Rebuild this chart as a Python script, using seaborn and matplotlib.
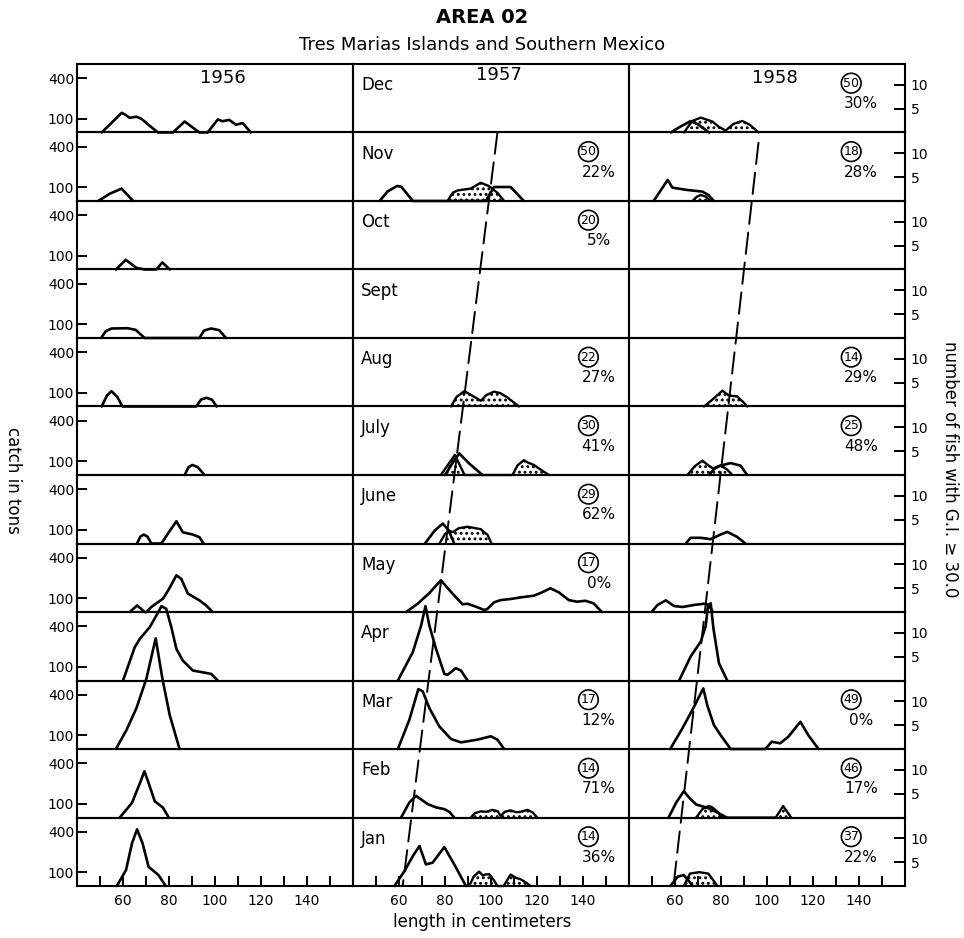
import matplotlib
matplotlib.use("Agg")
import matplotlib.pyplot as plt
import seaborn as sns
from matplotlib.patches import ConnectionPatch
from matplotlib.transforms import blended_transform_factory

# rows top to bottom, columns left to right
months = ["Dec", "Nov", "Oct", "Sept", "Aug", "July", "June", "May", "Apr", "Mar", "Feb", "Jan"]
years = ["1956", "1957", "1958"]

# catch in tons by length (cm)
dec56 = [(50.7, 0), (54.3, 59), (59.4, 145), (60.8, 133), (62.9, 108), (65.8, 116), (68, 101), (70.9, 59), (75.2, 0),
         (81.7, 0), (86.8, 81), (93.2, 0), (96.8, 0), (101.2, 96), (103.3, 83), (106.2, 93), (109.1, 57), (112, 69), (115.6, 0)]
nov56 = [(49.2, 0), (54.3, 54), (59.4, 91), (64.4, 0)]
oct56 = [(56.9, 0), (61.2, 71), (65.8, 12), (69.4, 0), (74.5, 0), (77.1, 52), (80.3, 0)]
sep56 = [(50.5, 0), (52.5, 50), (55, 70), (62, 72), (65.5, 60), (69.4, 0), (93.2, 0), (95.2, 55), (98.3, 70), (101.8, 58), (104.8, 0)]
aug56 = [(50.7, 0), (53, 80), (55, 113), (57.5, 70), (59.8, 0), (91.8, 0), (94, 52), (96.4, 64), (98.7, 50), (100.7, 0)]
jul56 = [(86.8, 0), (88.5, 58), (90.1, 74), (92.5, 58), (95.4, 0)]
jun56 = [(66.1, 0), (67.5, 50), (69, 66), (70.7, 50), (72.3, 0), (76.7, 0), (80, 85), (83.2, 164), (86, 83), (90.3, 66), (93.2, 47), (95, 0)]
may56 = [(63, 0), (66.1, 49), (69.4, 0), (70.2, 0), (72.3, 37), (77.4, 99), (80, 170), (83.2, 270), (85.3, 245),
         (88.2, 136), (93.2, 86), (96.1, 49), (99, 0)]
apr56 = [(60, 0), (65.1, 246), (67.3, 307), (71.6, 393), (74.5, 479), (76.7, 548), (78.8, 528), (81, 393), (83.2, 233),
         (86, 147), (90.3, 74), (98.3, 49), (101.2, 0)]
mar56 = [(56.9, 0), (61.5, 140), (65.8, 300), (70.2, 521), (74.2, 816), (77.1, 521), (80.3, 250), (84.6, 0)]
feb56 = [(58.6, 0), (63.9, 108), (67.4, 256), (69.3, 341), (71.1, 256), (73.8, 120), (77.3, 74), (79.9, 0)]
jan56 = [(57.3, 0), (61.3, 118), (63.9, 315), (66.1, 418), (68.5, 315), (71.1, 142), (75.4, 81), (78.6, 0)]

nov57 = [(51.6, 0), (55, 70), (59.2, 111), (61, 105), (66, 0), (97.7, 0), (101.3, 103), (108.5, 103), (114.3, 0)]
jul57 = [(80, 0), (83.5, 95), (86.2, 159), (90.5, 85), (96.3, 0)]
jun57 = [(71.3, 0), (75.5, 95), (79, 147), (81.5, 100), (84, 0)]
may57 = [(63.1, 0), (68.1, 61), (73.2, 140), (78.2, 234), (83.3, 135), (87.6, 57), (89.8, 61), (94.1, 35), (97, 15),
         (98.4, 22), (101.3, 71), (104.2, 88), (108.5, 96), (112.9, 108), (118.6, 120), (122.2, 145), (125.8, 175),
         (129.5, 145), (133.8, 88), (137.4, 76), (141, 83), (144.6, 64), (148.2, 0)]
apr57 = [(59.5, 0), (66, 209), (69.6, 405), (71.5, 548), (73.2, 405), (76.1, 233), (79.7, 49), (81.1, 42), (84.7, 91),
         (86.9, 74), (89.8, 0)]
mar57 = [(59.5, 0), (64.5, 216), (68.4, 442), (70.3, 425), (73.2, 302), (77.5, 167), (82.6, 74), (86.9, 49), (94.1, 69),
         (99.9, 94), (102.8, 69), (105.7, 0)]
feb57 = [(60.9, 0), (64.5, 111), (67.4, 160), (72.5, 99), (76, 75), (79.7, 62), (82, 40), (84, 0)]
jan57 = [(58, 0), (62.4, 111), (66, 221), (68.9, 295), (71.7, 160), (74.6, 172), (79.7, 287), (84, 160), (89.1, 0)]

dec58 = [(58.2, 0), (62, 40), (66.8, 84), (70, 60), (74.8, 0)]
nov58 = [(50.7, 0), (56.8, 155), (58.9, 98), (65.4, 81), (71.9, 69), (74.5, 45), (76.9, 0)]
jul58 = [(74.8, 0), (77, 45), (79.8, 69), (84.2, 88), (88.5, 69), (91.4, 0)]
jun58 = [(64.7, 0), (66.8, 42), (71.2, 42), (75.5, 32), (79.8, 66), (82.7, 86), (87, 49), (90.6, 0)]
may58 = [(49.8, 0), (52.4, 52), (56, 86), (59.6, 44), (63.2, 37), (68.3, 52), (72.6, 61), (74.5, 55), (76.5, 0)]
apr58 = [(61.8, 0), (66.8, 177), (71.2, 287), (73.3, 398), (74.3, 545), (75.5, 570), (76.7, 385), (79.1, 128), (82.7, 0)]
mar58 = [(57.9, 0), (63.2, 152), (68.3, 312), (72.3, 447), (74, 324), (76.9, 177), (79.8, 103), (84.2, 0),
         (99.3, 0), (102.1, 54), (105.7, 42), (109.3, 91), (114.5, 201), (118, 101), (122.4, 0)]
feb58 = [(57.2, 0), (60.5, 110), (63.8, 194), (66.5, 140), (69.2, 96), (74.5, 69), (78, 40), (82.5, 0)]
jan58 = [(58, 0), (61.2, 69), (63.8, 81), (67.8, 0)]

# number of fish with G.I. >= 30.0 (stippled)
nov57_gi = [(81.1, 0), (83.3, 1.7), (85.5, 2.2), (91.2, 2.6), (95.5, 3.8), (99.2, 3.1), (102.8, 1.7), (105.7, 0)]
aug57_gi = [(82.6, 0), (85, 2.0), (88.4, 3.2), (91, 2.5), (95.6, 1.2), (98, 2.4), (101.3, 3.1), (104, 2.8),
            (107.1, 1.9), (110, 0.8), (112.2, 0)]
jul57_gi = [(78.2, 0), (84.3, 4.2), (88.5, 0), (109.3, 0), (111.5, 2.0), (114.3, 3.1), (116, 2.6), (118.6, 2.1),
            (122, 1.0), (125.2, 0)]
jun57_gi = [(77.6, 0), (80, 2.0), (81.9, 2.6), (83.5, 2.4), (86, 3.2), (89.8, 3.5), (95.5, 3.0), (98.5, 1.8), (100.2, 0)]
feb57_gi = [(91.2, 0), (93, 0.9), (95.6, 1.3), (98, 1.2), (100.6, 1.6), (103, 1.3), (104.2, 0.3), (106, 1.2),
            (108.5, 1.5), (111, 1.1), (113, 1.2), (115.8, 1.6), (118, 1.1), (120.1, 0)]
jan57_gi = [(90.5, 0), (92.5, 2.0), (94.8, 3.0), (96.5, 2.2), (97.5, 2.4), (99.2, 2.5), (101, 1.4), (102.8, 0),
            (105.5, 0), (108.5, 2.4), (110.5, 1.8), (112.9, 1.4), (115, 0.8), (117.2, 0)]
dec58_gi = [(63.9, 0), (67.5, 2.4), (71.2, 3.1), (76.2, 2.3), (79, 1.2), (82, 0.4), (85.5, 1.8), (89.2, 2.4),
            (92.5, 1.6), (96.4, 0)]
nov58_gi = [(67.6, 0), (69.5, 0.9), (71.2, 1.25), (73.5, 0.9), (75.5, 0)]
aug58_gi = [(72.6, 0), (76.9, 1.7), (80.6, 3.3), (83.4, 2.3), (87, 2.1), (89.5, 1.0), (91.4, 0)]
jul58_gi = [(65.4, 0), (68.5, 1.8), (71.9, 3.0), (74.8, 1.9), (76.5, 1.4), (79.8, 2.0), (82.5, 1.2), (85, 0)]
feb58_gi = [(69.2, 0), (72, 1.8), (74.5, 2.4), (76, 2.2), (78.5, 1.2), (80.5, 0), (103.8, 0), (107, 2.4), (110.5, 0)]
jan58_gi = [(63.8, 0), (66.5, 2.6), (70.5, 2.9), (74.5, 2.6), (78.5, 0)]

# sample size (circled) and percent with G.I. >= 30.0, by month row
n_1957 = [None, 50, 20, None, 22, 30, 29, 17, None, 17, 14, 14]
pct_1957 = [None, 22, 5, None, 27, 41, 62, 0, None, 12, 71, 36]
n_1958 = [50, 18, None, None, 14, 25, None, None, None, 49, 46, 37]
pct_1958 = [30, 28, None, None, 29, 48, None, None, None, 0, 17, 22]

# dashed growth guides: length at top (Nov) and bottom (Jan)
guide_1957 = (102.8, 61.6)
guide_1958 = (96.3, 59.5)

catch = {
    "1956": [dec56, nov56, oct56, sep56, aug56, jul56, jun56, may56, apr56, mar56, feb56, jan56],
    "1957": [None, nov57, None, None, None, jul57, jun57, may57, apr57, mar57, feb57, jan57],
    "1958": [dec58, nov58, None, None, None, jul58, jun58, may58, apr58, mar58, feb58, jan58],
}
gi = {
    "1956": [None] * 12,
    "1957": [None, nov57_gi, None, None, aug57_gi, jul57_gi, jun57_gi, None, None, None, feb57_gi, jan57_gi],
    "1958": [dec58_gi, nov58_gi, None, None, aug58_gi, jul58_gi, None, None, None, None, feb58_gi, jan58_gi],
}

sns.set_style("ticks", {"axes.edgecolor": "black", "xtick.color": "black", "ytick.color": "black",
                        "text.color": "black", "axes.labelcolor": "black"})
plt.rcParams["font.family"] = ["DejaVu Sans"]
plt.rcParams["hatch.linewidth"] = 1.3

fig, axes = plt.subplots(12, 3, figsize=(9.64, 9.38), dpi=100)
fig.subplots_adjust(left=0.0799, right=0.9388, top=0.9318, bottom=0.0554, hspace=0, wspace=0)

for c, yr in enumerate(years):
    for r, mo in enumerate(months):
        ax = axes[r, c]
        ax.set_facecolor("none")
        ax.set_xlim(40, 160)
        ax.set_ylim(0, 505)
        for s in ax.spines.values():
            s.set_linewidth(1.5)
        tw = ax.twinx()
        tw.set_ylim(0, 14.3)
        tw.set_facecolor("none")
        for s in tw.spines.values():
            s.set_visible(False)

        pts = gi[yr][r]
        if pts is not None:
            gx = [p[0] for p in pts]
            gy = [p[1] for p in pts]
            tw.fill_between(gx, gy, 0, facecolor="none", edgecolor="black", hatch="...", lw=0, clip_on=False)
            tw.plot(gx, gy, color="black", lw=1.7, clip_on=False, solid_joinstyle="round")

        pts = catch[yr][r]
        if pts is not None:
            sns.lineplot(x=[p[0] for p in pts], y=[p[1] for p in pts], ax=ax, sort=False, estimator=None,
                         color="black", lw=1.9, clip_on=False)
        ax.set_xlabel("")
        ax.set_ylabel("")

        # ticks
        if c == 0:
            ax.set_yticks([100, 400])
            ax.tick_params(axis="y", direction="in", length=7, width=1.4, pad=2, labelsize=10)
        else:
            ax.set_yticks([])
        if c == 2:
            tw.set_yticks([5, 10])
            tw.tick_params(axis="y", direction="in", length=8, width=1.4, pad=4, labelsize=10)
        else:
            tw.set_yticks([])
        if r == 11:
            ax.set_xticks([60, 80, 100, 120, 140])
            ax.set_xticks(range(50, 160, 10), minor=True)
            ax.tick_params(axis="x", which="both", direction="in", length=7, width=1.4, pad=6, labelsize=10)
        else:
            ax.set_xticks([])

        if c == 1:
            ax.text(0.03, 0.69, mo, transform=ax.transAxes, ha="left", va="center", fontsize=12)
        if r == 0:
            yy = 0.84 if c == 1 else 0.80
            ax.text(0.53, yy, yr, transform=ax.transAxes, ha="center", va="center", fontsize=13)

        if c == 1:
            n, pc, cx, px = n_1957[r], pct_1957[r], 0.853, 0.89
        elif c == 2:
            n, pc, cx, px = n_1958[r], pct_1958[r], 0.805, 0.84
        else:
            n = None
        if n is not None:
            ax.text(cx, 0.72, str(n), transform=ax.transAxes, ha="center", va="center", fontsize=9,
                    bbox=dict(boxstyle="circle,pad=0.15", fc="none", ec="black", lw=1.2))
            ax.text(px, 0.42, f"{pc}%", transform=ax.transAxes, ha="center", va="center", fontsize=11)


def blend(ax):
    return blended_transform_factory(ax.transData, ax.transAxes)


for c, guide, ytop, ybot in [(1, guide_1957, 1.0, 0.0), (2, guide_1958, 0.85, 0.05)]:
    con = ConnectionPatch(xyA=(guide[0], ytop), coordsA=blend(axes[1, c]),
                          xyB=(guide[1], ybot), coordsB=blend(axes[11, c]),
                          color="black", lw=1.4, linestyle=(0, (11, 4.5)))
    fig.add_artist(con)

fig.text(0.5, 0.981, "AREA 02", ha="center", va="center", fontsize=14, fontweight="bold")
fig.text(0.5, 0.952, "Tres Marias Islands and Southern Mexico", ha="center", va="center", fontsize=13)
fig.text(0.5, 0.017, "length in centimeters", ha="center", va="center", fontsize=12)
fig.text(0.013, 0.488, "catch in tons", ha="center", va="center", rotation=-90, fontsize=12)
fig.text(0.985, 0.50, "number of fish with G.I. \u2265 30.0", ha="center", va="center", rotation=-90, fontsize=12)

fig.savefig("out.png", dpi=100)
